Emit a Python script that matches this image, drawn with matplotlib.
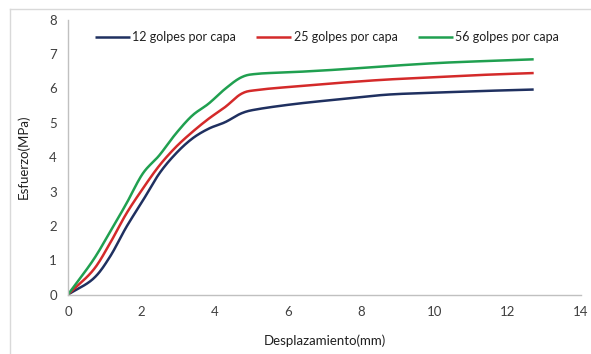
import matplotlib
matplotlib.use("Agg")
import numpy as np
import matplotlib.pyplot as plt
from matplotlib.lines import Line2D

plt.rcParams['font.family'] = ['Lato', 'DejaVu Sans']

# Stress–displacement curves for three compaction levels
desplazamiento = [0.0, 0.68, 1.14, 1.59, 2.04, 2.49, 2.94, 3.39, 3.84, 4.29, 4.74,
                  5.19, 6.2, 7.35, 8.7, 10.05, 11.4, 12.71]
esfuerzo_12 = [0.0, 0.45, 1.09, 1.96, 2.73, 3.52, 4.10, 4.54, 4.83, 5.02, 5.28,
               5.40, 5.55, 5.68, 5.82, 5.88, 5.93, 5.97]
esfuerzo_25 = [0.0, 0.70, 1.48, 2.35, 3.08, 3.75, 4.29, 4.73, 5.12, 5.46, 5.85,
               5.96, 6.06, 6.16, 6.26, 6.33, 6.40, 6.45]
esfuerzo_56 = [0.0, 0.99, 1.81, 2.64, 3.52, 4.05, 4.68, 5.21, 5.56, 5.99, 6.33,
               6.43, 6.48, 6.55, 6.65, 6.74, 6.80, 6.85]

series_labels = ['12 golpes por capa', '25 golpes por capa', '56 golpes por capa']
series_colors = ['#1f3060', '#d42a2a', '#20a050']

x_ticks = [0, 2, 4, 6, 8, 10, 12, 14]
y_ticks = [0, 1, 2, 3, 4, 5, 6, 7, 8]


def smooth_path(xs, ys, steps=16):
    """Catmull-Rom path through the given points (spreadsheet-style smoothed line)."""
    p = np.column_stack([xs, ys]).astype(float)
    p = np.vstack([2 * p[0] - p[1], p, 2 * p[-1] - p[-2]])
    out = []
    t = np.linspace(0, 1, steps, endpoint=False)[:, None]
    for i in range(1, len(p) - 2):
        p0, p1, p2, p3 = p[i - 1], p[i], p[i + 1], p[i + 2]
        seg = 0.5 * ((2 * p1) + (-p0 + p2) * t + (2 * p0 - 5 * p1 + 4 * p2 - p3) * t ** 2
                     + (-p0 + 3 * p1 - 3 * p2 + p3) * t ** 3)
        out.append(seg)
    out.append(p[-2][None, :])
    out = np.vstack(out)
    return out[:, 0], out[:, 1]


fig = plt.figure(figsize=(5.91, 3.54), dpi=100)
ax = fig.add_axes([0.115, 0.168, 0.868, 0.776])

for ys, lab, col in zip([esfuerzo_12, esfuerzo_25, esfuerzo_56], series_labels, series_colors):
    sx, sy = smooth_path(desplazamiento, ys)
    ax.plot(sx, sy, color=col, lw=1.8, label=lab, solid_capstyle='butt')

ax.set_xlim(0, 14)
ax.set_ylim(0, 8)
ax.set_xticks(x_ticks)
ax.set_yticks(y_ticks)
ax.tick_params(length=0, labelsize=9.5, labelcolor='#404040', pad=8)
for s in ['top', 'right']:
    ax.spines[s].set_visible(False)
for s in ['left', 'bottom']:
    ax.spines[s].set_color('#c0c0c0')
    ax.spines[s].set_linewidth(1.0)

ax.set_xlabel('Desplazamiento(mm)', fontsize=9.5, color='#202020', labelpad=12)
ax.set_ylabel('Esfuerzo(MPa)', fontsize=9.5, color='#202020', labelpad=14)

ax.legend(loc='upper center', bbox_to_anchor=(0.505, 1.0), ncol=3, frameon=False,
          fontsize=9, handlelength=2.8, handletextpad=0.2, columnspacing=1.6,
          labelcolor='#202020')

# light frame around the chart area
fig.add_artist(Line2D([10 / 591, 1.0], [1 - 9 / 354, 1 - 9 / 354],
                      transform=fig.transFigure, color='#d9d9d9', lw=1.0))
fig.add_artist(Line2D([10 / 591, 10 / 591], [0.0, 1 - 9 / 354],
                      transform=fig.transFigure, color='#d9d9d9', lw=1.0))

fig.savefig('out.png', dpi=100)
